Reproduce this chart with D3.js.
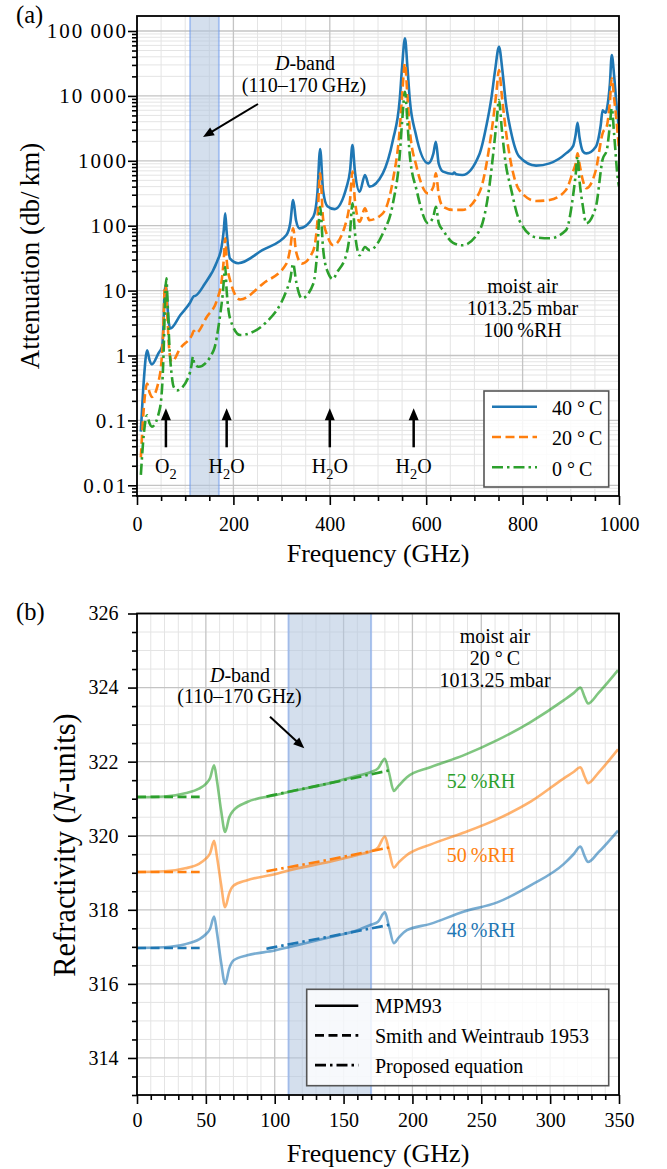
<!DOCTYPE html>
<html>
<head>
<meta charset="utf-8">
<script src="https://cdn.jsdelivr.net/npm/d3@7"></script>
<style>
  body { margin: 0; background: #fff; }
  svg { display: block; }
  svg text { font-family: "Liberation Serif", "Times New Roman", Times, serif !important; }
</style>
</head>
<body>
<div id="chart"></div>
<script>
// ---- (a) attenuation of moist air, 1013.25 mbar, 100 %RH ----
const freq40 = [8, 14, 21, 26, 31, 45, 52, 55, 57, 60, 63, 66, 69, 90, 110, 118, 121, 140, 166, 175, 180, 183, 186, 193, 210, 260, 310, 318, 324, 330, 337, 366, 374, 380, 386, 395, 410, 435, 442, 447, 452, 462, 473, 482, 510, 531, 545, 550, 556, 561, 566, 578, 604, 615, 620, 626, 635, 655, 658, 662, 675, 711, 725, 735, 743, 751, 758, 765, 775, 793, 828, 856, 890, 905, 910, 914, 918, 925, 932, 952, 962, 966, 972, 976, 981, 985, 990, 994, 1000];
const attn40 = [0.067, 0.4, 1.2, 0.85, 0.73, 1.1, 1.37, 3, 9, 12.5, 6, 3.2, 2.6, 4.2, 6.5, 8.2, 8.3, 12.5, 28, 45, 85, 155, 80, 31, 26.4, 42, 72, 110, 249, 120, 91, 138, 300, 1520, 350, 200, 180, 400, 700, 1750, 700, 334, 604, 400, 641, 2090, 8650, 28000, 77000, 28000, 8650, 2650, 912, 1300, 1970, 900, 680, 627, 660, 620, 604, 1300, 3500, 9000, 25000, 57000, 25000, 8000, 3000, 1156, 841, 912, 1300, 1700, 2500, 3860, 2300, 1400, 1300, 1650, 3500, 6000, 5500, 7000, 15000, 42700, 20000, 8650, 3000];

const freq20 = [8, 14, 21, 26, 31, 48, 54, 58, 60, 63, 67, 72, 90, 114, 118, 122, 145, 166, 176, 180, 183, 186, 193, 214, 262, 310, 318, 324, 330, 342, 366, 374, 380, 386, 395, 407, 435, 442, 447, 452, 462, 473, 482, 510, 531, 545, 550, 556, 561, 566, 580, 604, 615, 620, 626, 635, 655, 675, 711, 731, 740, 746, 751, 757, 765, 775, 793, 828, 856, 890, 905, 910, 914, 918, 925, 932, 952, 966, 975, 981, 985, 990, 994, 1000];
const attn20 = [0.027, 0.15, 0.37, 0.27, 0.23, 0.53, 2, 12, 11, 4, 1.2, 0.8, 1.3, 2.07, 2.4, 2.2, 3.96, 7.2, 15, 30, 64, 30, 14.5, 7.3, 12.9, 26, 45, 91, 40, 26, 42, 110, 641, 130, 70, 50, 122, 250, 680, 250, 115, 185, 122, 155, 506, 3000, 10000, 31800, 10000, 3000, 810, 315, 400, 641, 300, 196, 175, 175, 334, 1650, 5000, 12000, 25000, 10000, 3000, 1000, 355, 240, 249, 355, 700, 900, 1300, 900, 500, 377, 721, 2650, 3500, 8000, 18700, 9000, 4800, 1500];

const freq0 = [8, 14, 21, 26, 31, 48, 55, 58, 61, 63, 67, 72, 76, 83, 107, 113, 116, 119, 128, 159, 172, 178, 183, 186, 193, 214, 269, 310, 318, 324, 330, 342, 366, 374, 380, 386, 395, 407, 414, 435, 442, 447, 452, 462, 473, 482, 510, 531, 545, 550, 556, 561, 566, 580, 604, 615, 620, 626, 635, 655, 675, 711, 731, 740, 746, 751, 757, 765, 775, 793, 828, 856, 890, 905, 910, 914, 918, 925, 932, 952, 966, 975, 981, 985, 990, 997, 1000];
const attn0 = [0.0145, 0.06, 0.12, 0.09, 0.08, 0.16, 1, 6, 15.5, 8, 1.5, 0.5, 0.33, 0.29, 0.47, 0.7, 0.96, 0.75, 0.67, 1.2, 3.96, 9, 23, 10, 3.74, 2.07, 3.3, 10, 15, 26, 14, 7.6, 12.9, 40, 196, 45, 20, 15, 18.6, 37.6, 80, 221, 80, 35, 47, 42, 76, 221, 1200, 4000, 11600, 4000, 1200, 355, 109, 140, 196, 110, 85, 55, 50, 85, 400, 1500, 4000, 8650, 3000, 900, 400, 122, 66, 64, 85, 300, 600, 1156, 500, 200, 109, 196, 1050, 1500, 3500, 6440, 2500, 570, 400];

const xTicksA = [0, 200, 400, 600, 800, 1000];
const yTicksA = [0.01, 0.1, 1, 10, 100, 1000, 10000, 100000];
const yTickLabelsA = ["0.01", "0.1", "1", "10", "100", "1000", "10\u2009000", "100\u2009000"];
const tempLabels = ["40", "20", "0"];
const lineArrowsA = [60, 186, 400, 574];      // O2, H2O, H2O, H2O
const lineArrowNames = ["O2", "H2O", "H2O", "H2O"];
const dBand = [110, 170];

// ---- (b) refractivity, moist air, 20 C, 1013.25 mbar ----
const mpmFreq = [0, 20, 35, 45, 50, 53, 56, 58, 61, 64, 67, 70, 80, 100, 110, 140, 160, 170, 175, 180, 183, 186.5, 190, 196, 213, 237, 261.6, 285.8, 310, 317, 322, 325, 327.5, 335, 349.3];
const nMPM52 = [321.04, 321.06, 321.15, 321.27, 321.4, 321.55, 321.9, 321.5, 320.7, 320.1, 320.5, 320.68, 320.91, 321.09, 321.18, 321.42, 321.62, 321.72, 321.82, 322.08, 321.7, 321.21, 321.35, 321.58, 321.85, 322.17, 322.58, 323.07, 323.66, 323.85, 324.0, 323.75, 323.57, 323.85, 324.47];
const nMPM50 = [319.02, 319.04, 319.12, 319.24, 319.38, 319.52, 319.86, 319.45, 318.7, 318.07, 318.45, 318.65, 318.8, 318.96, 319.06, 319.3, 319.48, 319.58, 319.68, 319.98, 319.6, 319.14, 319.28, 319.48, 319.76, 320.08, 320.45, 320.92, 321.55, 321.72, 321.85, 321.6, 321.42, 321.7, 322.33];
const nMPM48 = [316.97, 316.99, 317.07, 317.2, 317.34, 317.48, 317.82, 317.4, 316.6, 316.0, 316.42, 316.63, 316.77, 316.9, 316.99, 317.26, 317.45, 317.6, 317.68, 317.93, 317.55, 317.1, 317.25, 317.45, 317.62, 317.95, 318.2, 318.66, 319.24, 319.5, 319.71, 319.45, 319.29, 319.55, 320.14];

const swFreq = [0, 45.5];
const swN52 = [321.05, 321.05];
const swN50 = [319.02, 319.02];
const swN48 = [316.97, 316.97];

const propFreq = [94, 140, 184];
const propN52 = [321.06, 321.42, 321.77];
const propN50 = [319.04, 319.36, 319.69];
const propN48 = [316.95, 317.28, 317.6];

const rhLabels = ["52", "50", "48"];
const xTicksB = [0, 50, 100, 150, 200, 250, 300, 350];
const yTicksB = [314, 316, 318, 320, 322, 324, 326];
const legendB = ["MPM93", "Smith and Weintraub 1953", "Proposed equation"];

const SERIF = '"Liberation Serif", "Times New Roman", Times, serif';
const colors = ["#1f77b4", "#ff7f0e", "#2ca02c"];
const dashes = [null, "9,4.5", "11,4,2.5,4"];

const svg = d3.select("#chart").append("svg")
  .attr("width", 667).attr("height", 1169)
  .style("font-family", SERIF);
svg.append("rect").attr("width", 667).attr("height", 1169).attr("fill", "#fff");

function zip(xs, ys) { return xs.map((x, i) => [x, ys[i]]); }

// text with italic / subscript parts
function rich(g, x, y, parts, size, anchor, fill) {
  let t = g.append("text").attr("x", x).attr("y", y)
    .attr("font-size", size).attr("text-anchor", anchor || "middle")
    .attr("fill", fill || "#000");
  let cur = 0;
  parts.forEach(p => {
    let s = t.append("tspan").text(p.t);
    let shift = p.sub ? size * 0.28 : 0;
    if (shift !== cur) { s.attr("dy", shift - cur); cur = shift; }
    if (p.sub) s.attr("font-size", size * 0.72);
    if (p.it) s.attr("font-style", "italic");
  });
  return t;
}

function chem(name) {
  return name.split("").map(c => (c === "2" ? { t: c, sub: true } : { t: c }));
}

function arrow(g, x1, y1, x2, y2, lw, hl, hw) {
  let dx = x2 - x1, dy = y2 - y1, len = Math.hypot(dx, dy);
  let ux = dx / len, uy = dy / len;
  let bx = x2 - ux * hl, by = y2 - uy * hl;
  g.append("line").attr("x1", x1).attr("y1", y1)
    .attr("x2", bx + ux * 2).attr("y2", by + uy * 2)
    .attr("stroke", "#000").attr("stroke-width", lw);
  g.append("path")
    .attr("d", `M${x2},${y2}L${bx - uy * hw / 2},${by + ux * hw / 2}L${bx + uy * hw / 2},${by - ux * hw / 2}Z`)
    .attr("fill", "#000");
}

function gridLines(g, x, y, box, xMin, xMaj, yMin, yMaj) {
  let gg = g.append("g");
  gg.selectAll(".vmin").data(xMin).join("line")
    .attr("x1", d => x(d)).attr("x2", d => x(d)).attr("y1", box.t).attr("y2", box.b)
    .attr("stroke", "#e4e4e4").attr("stroke-width", 1);
  gg.selectAll(".hmin").data(yMin).join("line")
    .attr("y1", d => y(d)).attr("y2", d => y(d)).attr("x1", box.l).attr("x2", box.r)
    .attr("stroke", "#e4e4e4").attr("stroke-width", 1);
  gg.selectAll(".vmaj").data(xMaj).join("line")
    .attr("x1", d => x(d)).attr("x2", d => x(d)).attr("y1", box.t).attr("y2", box.b)
    .attr("stroke", "#c4c4c4").attr("stroke-width", 1.3);
  gg.selectAll(".hmaj").data(yMaj).join("line")
    .attr("y1", d => y(d)).attr("y2", d => y(d)).attr("x1", box.l).attr("x2", box.r)
    .attr("stroke", "#c4c4c4").attr("stroke-width", 1.3);
}

function styleAxis(a, size, spacing) {
  a.select(".domain").remove();
  a.selectAll("line").attr("stroke", "#000").attr("stroke-width", 1.6);
  a.selectAll("text").attr("font-size", size).attr("fill", "#000")
    .attr("letter-spacing", spacing || 0);
}

function axes(g, x, y, box, xMaj, xMin, yMaj, yMin, yFmt, xPad, yPad, ySize, ySpacing) {
  let ab = g.append("g").attr("transform", `translate(0,${box.b})`)
    .call(d3.axisBottom(x).tickValues(xMaj).tickSize(9).tickPadding(xPad).tickFormat(d3.format("d")));
  styleAxis(ab, 20);
  let abm = g.append("g").attr("transform", `translate(0,${box.b})`)
    .call(d3.axisBottom(x).tickValues(xMin).tickSize(5).tickFormat(""));
  styleAxis(abm, 20);
  let al = g.append("g").attr("transform", `translate(${box.l},0)`)
    .call(d3.axisLeft(y).tickValues(yMaj).tickSize(9).tickPadding(yPad).tickFormat(yFmt));
  styleAxis(al, ySize, ySpacing);
  let alm = g.append("g").attr("transform", `translate(${box.l},0)`)
    .call(d3.axisLeft(y).tickValues(yMin).tickSize(5).tickFormat(""));
  styleAxis(alm, 20);
  g.append("rect").attr("x", box.l).attr("y", box.t)
    .attr("width", box.r - box.l).attr("height", box.b - box.t)
    .attr("fill", "none").attr("stroke", "#000").attr("stroke-width", 1.8);
}

function band(g, x, box) {
  g.append("rect").attr("x", x(dBand[0])).attr("y", box.t)
    .attr("width", x(dBand[1]) - x(dBand[0])).attr("height", box.b - box.t)
    .attr("fill", "#b0c4de").attr("fill-opacity", 0.55);
  g.selectAll(".bedge").data(dBand).join("line")
    .attr("x1", d => x(d)).attr("x2", d => x(d)).attr("y1", box.t).attr("y2", box.b)
    .attr("stroke", "#6495ed").attr("stroke-opacity", 0.45).attr("stroke-width", 2);
}

// =================== panel (a) ===================
const boxA = { l: 137, r: 619, t: 16, b: 496 };
const xA = d3.scaleLinear().domain([0, 1000]).range([boxA.l, boxA.r]);
const yA = d3.scaleLog().domain([Math.pow(10, -2.165), Math.pow(10, 5.231)]).range([boxA.b, boxA.t]);

const gA = svg.append("g");
const xMinA = d3.range(0, 1001, 50).filter(d => d % 200 !== 0);
const yMinA = [];
for (let k = -3; k <= 5; k++) {
  for (let m = 2; m <= 9; m++) {
    let v = m * Math.pow(10, k);
    if (v > yA.domain()[0] && v < yA.domain()[1]) yMinA.push(v);
  }
}
gridLines(gA, xA, yA, boxA, xMinA, xTicksA, yMinA, yTicksA);
band(gA, xA, boxA);

gA.append("clipPath").attr("id", "clipA").append("rect")
  .attr("x", boxA.l).attr("y", boxA.t).attr("width", boxA.r - boxA.l).attr("height", boxA.b - boxA.t);

const lineA = d3.line().x(d => xA(d[0])).y(d => yA(d[1])).curve(d3.curveMonotoneX);
const seriesA = [zip(freq40, attn40), zip(freq20, attn20), zip(freq0, attn0)];
gA.append("g").attr("clip-path", "url(#clipA)")
  .selectAll("path").data(seriesA).join("path")
  .attr("d", lineA)
  .attr("fill", "none")
  .attr("stroke", (d, i) => colors[i])
  .attr("stroke-width", 2.6)
  .attr("stroke-dasharray", (d, i) => dashes[i]);

axes(gA, xA, yA, boxA, xTicksA, xMinA, yTicksA, yMinA,
  d => yTickLabelsA[yTicksA.indexOf(d)], 11.5, 0, 21, 2);

// labels
svg.append("text").attr("x", 16).attr("y", 23).attr("font-size", 24.5).text("(a)");
svg.append("text").attr("x", (boxA.l + boxA.r) / 2).attr("y", 562)
  .attr("font-size", 26).attr("text-anchor", "middle").text("Frequency (GHz)");
svg.append("text").attr("transform", `translate(39,${(boxA.t + boxA.b) / 2}) rotate(-90)`)
  .attr("font-size", 27).attr("text-anchor", "middle").text("Attenuation (db/\u2009km)");

// D-band annotation
rich(gA, 305, 70, [{ t: "D", it: true }, { t: "-band" }], 20);
rich(gA, 304, 92, [{ t: "(110\u2013170\u2009GHz)" }], 20);
arrow(gA, 258, 104, 203, 137, 2, 11, 9);

// conditions
["moist air", "1013.25 mbar", "100\u2009%RH"].forEach((s, i) => {
  gA.append("text").attr("x", xA(800)).attr("y", 293.3 + i * 21.7)
    .attr("font-size", 20).attr("text-anchor", "middle").text(s);
});

// absorption line markers
lineArrowsA.forEach((f, i) => {
  arrow(gA, xA(f), 447.3, xA(f), 408.3, 2.5, 12, 10);
  rich(gA, xA(f), 473, chem(lineArrowNames[i]), 20);
});

// legend (a)
const legA = gA.append("g");
legA.append("rect").attr("x", 484).attr("y", 391).attr("width", 124.7).attr("height", 96)
  .attr("fill", "#fff").attr("fill-opacity", 0.85)
  .attr("stroke", "#555").attr("stroke-width", 1.6);
tempLabels.forEach((t, i) => {
  let yy = 406.7 + i * 30.3;
  legA.append("line").attr("x1", 492).attr("x2", 537).attr("y1", yy).attr("y2", yy)
    .attr("stroke", colors[i]).attr("stroke-width", 2.6)
    .attr("stroke-dasharray", dashes[i]);
  legA.append("text").attr("x", 552).attr("y", yy + 8.3).attr("font-size", 20)
    .text(t + " \u00b0\u2009C");
});

// =================== panel (b) ===================
const boxB = { l: 137, r: 619, t: 613.5, b: 1095 };
const xB = d3.scaleLinear().domain([0, 350]).range([boxB.l, boxB.r]);
const yB = d3.scaleLinear().domain([313, 326]).range([boxB.b, boxB.t]);

const gB = svg.append("g");
const xMinB = d3.range(0, 351, 10).filter(d => d % 50 !== 0);
const yMinB = d3.range(313, 326.01, 0.5).filter(d => d % 2 !== 0);
gridLines(gB, xB, yB, boxB, xMinB, xTicksB, yMinB, yTicksB);
band(gB, xB, boxB);

const lineB = d3.line().x(d => xB(d[0])).y(d => yB(d[1])).curve(d3.curveMonotoneX);
const mpm = [nMPM48, nMPM50, nMPM52].map(v => zip(mpmFreq, v));
const sw = [swN48, swN50, swN52].map(v => zip(swFreq, v));
const prop = [propN48, propN50, propN52].map(v => zip(propFreq, v));

gB.append("g").selectAll("path").data(mpm).join("path")
  .attr("d", lineB).attr("fill", "none")
  .attr("stroke", (d, i) => colors[i]).attr("stroke-opacity", 0.6)
  .attr("stroke-width", 2.6);
gB.append("g").selectAll("path").data(sw).join("path")
  .attr("d", lineB).attr("fill", "none")
  .attr("stroke", (d, i) => colors[i]).attr("stroke-width", 2.6)
  .attr("stroke-dasharray", "9,4.5");
gB.append("g").selectAll("path").data(prop).join("path")
  .attr("d", lineB).attr("fill", "none")
  .attr("stroke", (d, i) => colors[i]).attr("stroke-width", 2.6)
  .attr("stroke-dasharray", "11,4,2.5,4");

axes(gB, xB, yB, boxB, xTicksB, xMinB, yTicksB, yMinB, d3.format("d"), 8.5, 9.5, 20, 0);

svg.append("text").attr("x", 16).attr("y", 620).attr("font-size", 24.5).text("(b)");
svg.append("text").attr("x", (boxB.l + boxB.r) / 2).attr("y", 1162)
  .attr("font-size", 26).attr("text-anchor", "middle").text("Frequency (GHz)");
rich(svg.append("g").attr("transform", `translate(75,845) rotate(-90)`), 0, 0,
  [{ t: "Refractivity (" }, { t: "N", it: true }, { t: "-units)" }], 30.5);

rich(gB, 240, 681.7, [{ t: "D", it: true }, { t: "-band" }], 20);
rich(gB, 239.5, 703, [{ t: "(110\u2013170\u2009GHz)" }], 20);
arrow(gB, 270, 716.7, 304.3, 748.3, 2, 11, 9);

["moist air", "20 \u00b0\u2009C", "1013.25 mbar"].forEach((s, i) => {
  gB.append("text").attr("x", 495).attr("y", 643 + i * 21.9)
    .attr("font-size", 20).attr("text-anchor", "middle").text(s);
});

// RH labels
const rhY = [936.5, 862, 788];
[2, 1, 0].forEach(i => {
  gB.append("text").attr("x", 481).attr("y", rhY[i])
    .attr("font-size", 20).attr("text-anchor", "middle")
    .attr("fill", colors[i]).text(rhLabels[2 - i] + "\u2009%RH");
});

// legend (b)
const legB = gB.append("g");
legB.append("rect").attr("x", 306.7).attr("y", 989.3).attr("width", 302).attr("height", 96.4)
  .attr("fill", "#fff").attr("fill-opacity", 0.82)
  .attr("stroke", "#555").attr("stroke-width", 1.6);
legendB.forEach((s, i) => {
  let yy = 1005.7 + i * 29.7;
  legB.append("line").attr("x1", 315).attr("x2", 358.3).attr("y1", yy).attr("y2", yy)
    .attr("stroke", "#000").attr("stroke-width", 2.6)
    .attr("stroke-dasharray", dashes[i]);
  legB.append("text").attr("x", 375).attr("y", yy + 7.6).attr("font-size", 20).text(s);
});
</script>
</body>
</html>
